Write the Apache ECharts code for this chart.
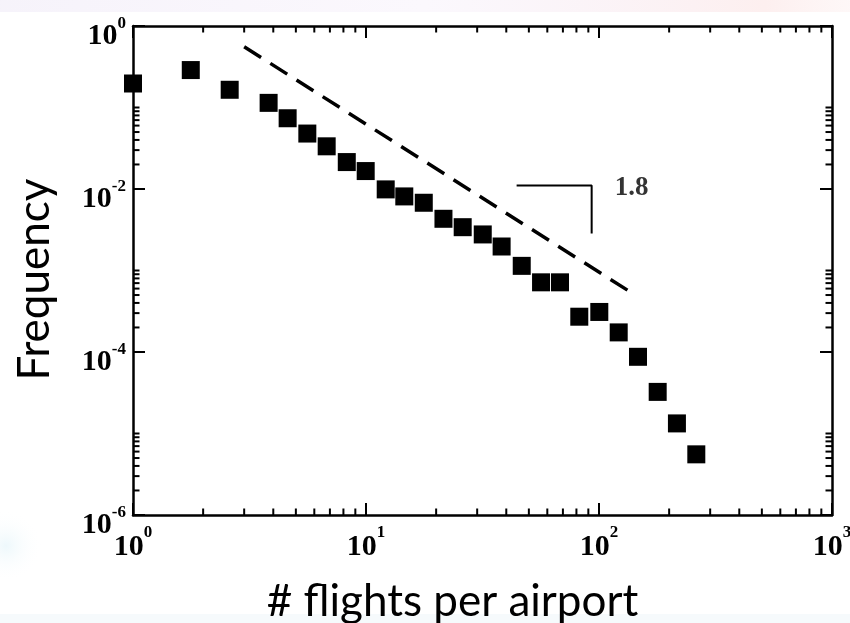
<!DOCTYPE html>
<html>
<head>
<meta charset="utf-8">
<title>Flights per airport</title>
<script src="https://cdn.jsdelivr.net/npm/echarts@6/dist/echarts.min.js"></script>
<style>
  html, body { margin: 0; padding: 0; background: #ffffff; }
  #chart { width: 850px; height: 623px; }
</style>
</head>
<body>
<div id="chart"></div>
<script>
// Degree distribution: number of flights per airport vs. frequency
const flights = [1.0, 1.77, 2.6, 3.82, 4.61, 5.6, 6.78, 8.27, 9.97, 12.15, 14.6, 17.7, 21.5, 26.0, 31.7, 38.2, 46.6, 56.4, 68.0, 82.3, 100.3, 121.5, 147, 178.6, 216, 261.6];
const frequency = [0.197, 0.288, 0.165, 0.114, 0.0738, 0.0479, 0.0334, 0.0214, 0.0166, 0.00989, 0.00811, 0.00678, 0.00431, 0.0034, 0.00277, 0.00197, 0.00114, 0.000716, 0.000716, 0.000271, 0.00031, 0.000174, 0.0000873, 0.0000324, 0.0000133, 0.00000555];

// Power-law guide (slope -1.8), end points
const guideX = [3, 137];
const guideY = [0.556, 0.00054];

// Slope marker and its label
const slopeX = [44.3, 93, 93];
const slopeY = [0.01107, 0.01107, 0.00284];
const slopeLabel = '1.8';
const slopeLabelAt = [138, 0.0102];

// Axis ranges and tick positions
const xRange = [1, 1000];
const yRange = [1e-6, 1];
const xMinorTicks = [2, 3, 4, 5, 6, 7, 8, 9, 20, 30, 40, 50, 60, 70, 80, 90, 200, 300, 400, 500, 600, 700, 800, 900];
const yMinorTicks = [2e-2, 3e-2, 4e-2, 5e-2, 6e-2, 7e-2, 8e-2, 9e-2, 1e-1,
                     2e-4, 3e-4, 4e-4, 5e-4, 6e-4, 7e-4, 8e-4, 9e-4, 1e-3,
                     2e-6, 3e-6, 4e-6, 5e-6, 6e-6, 7e-6, 8e-6, 9e-6, 1e-5];

const xTitle = '# flights per airport';
const yTitle = 'Frequency';

const serif = '"Liberation Serif", "DejaVu Serif", serif';
const sans = 'Lato, "Open Sans", sans-serif';
function powerRich(lineHeight) {
  return {
    b: { fontFamily: serif, fontWeight: 'bold', fontSize: 30, color: '#000', lineHeight: lineHeight, verticalAlign: 'bottom' },
    s: { fontFamily: serif, fontWeight: 'bold', fontSize: 17, color: '#000', verticalAlign: 'top' }
  };
}
function powerLabel(v) {
  const e = Math.round(Math.log10(v));
  return '{b|10}{s|' + e + '}';
}

const frame = { show: true, onZero: false, lineStyle: { color: '#000', width: 2.5 } };
const majorTick = { show: true, inside: true, length: 12, lineStyle: { color: '#000', width: 2 } };

function minorTickItem(axis) {
  return function (params, api) {
    const cs = params.coordSys;
    const len = 6.5;
    const style = { stroke: '#000', lineWidth: 2 };
    if (axis === 'x') {
      const px = api.coord([api.value(0), 1e-3])[0];
      const bottom = cs.y + cs.height, top = cs.y;
      return { type: 'group', children: [
        { type: 'line', shape: { x1: px, y1: bottom, x2: px, y2: bottom - len }, style: style },
        { type: 'line', shape: { x1: px, y1: top, x2: px, y2: top + len }, style: style }
      ] };
    }
    const py = api.coord([10, api.value(1)])[1];
    const left = cs.x, right = cs.x + cs.width;
    return { type: 'group', children: [
      { type: 'line', shape: { x1: left, y1: py, x2: left + len, y2: py }, style: style },
      { type: 'line', shape: { x1: right, y1: py, x2: right - len, y2: py }, style: style }
    ] };
  };
}

const chart = echarts.init(document.getElementById('chart'), null, { renderer: 'canvas' });
chart.setOption({
  animation: false,
  backgroundColor: '#ffffff',
  graphic: [
    { type: 'rect', silent: true, z: -10, shape: { x: 0, y: 0, width: 850, height: 12 },
      style: { fill: new echarts.graphic.LinearGradient(0, 0, 1, 0, [
        { offset: 0, color: 'rgba(225,215,240,0.3)' },
        { offset: 0.5, color: 'rgba(235,220,245,0.2)' },
        { offset: 0.9, color: 'rgba(250,215,215,0.4)' },
        { offset: 1, color: 'rgba(250,225,225,0.25)' }]) } },
    { type: 'rect', silent: true, z: -10, shape: { x: 0, y: 430, width: 60, height: 193 },
      style: { fill: new echarts.graphic.RadialGradient(0.1, 0.6, 0.6, [
        { offset: 0, color: 'rgba(205,235,245,0.35)' },
        { offset: 1, color: 'rgba(255,255,255,0)' }]) } },
    { type: 'rect', silent: true, z: -10, shape: { x: 0, y: 614, width: 850, height: 9 },
      style: { fill: 'rgba(215,230,240,0.22)' } }
  ],
  grid: { left: 133, right: 18, top: 26, bottom: 108, containLabel: false, outerBoundsMode: 'none' },
  xAxis: [
    {
      type: 'log', logBase: 10, min: xRange[0], max: xRange[1], interval: 1,
      position: 'bottom',
      axisLine: frame, axisTick: majorTick, splitLine: { show: false }, minorTick: { show: false },
      axisLabel: { show: true, margin: 9, formatter: powerLabel, rich: powerRich(38) },
      name: xTitle, nameLocation: 'middle', nameGap: 65,
      nameTextStyle: { fontFamily: sans, fontSize: 44, color: '#000', padding: [0, 60, 0, 0] }
    },
    {
      type: 'log', logBase: 10, min: xRange[0], max: xRange[1], interval: 1,
      position: 'top',
      axisLine: frame, axisTick: majorTick, splitLine: { show: false },
      axisLabel: { show: false }
    }
  ],
  yAxis: [
    {
      type: 'log', logBase: 10, min: yRange[0], max: yRange[1], interval: 2,
      position: 'left',
      axisLine: frame, axisTick: majorTick, splitLine: { show: false }, minorTick: { show: false },
      axisLabel: { show: true, margin: 7, formatter: powerLabel, rich: powerRich(36), padding: [15, 0, 0, 0] },
      name: yTitle, nameLocation: 'middle', nameGap: 76,
      nameTextStyle: { fontFamily: sans, fontSize: 44, color: '#000', padding: [0, 18, 0, 0] }
    },
    {
      type: 'log', logBase: 10, min: yRange[0], max: yRange[1], interval: 2,
      position: 'right',
      axisLine: frame, axisTick: majorTick, splitLine: { show: false },
      axisLabel: { show: false }
    }
  ],
  series: [
    {
      type: 'custom', name: 'x minor ticks', xAxisIndex: 0, yAxisIndex: 0, clip: false, silent: true,
      renderItem: minorTickItem('x'),
      data: xMinorTicks.map(function (v) { return [v, 1e-3]; })
    },
    {
      type: 'custom', name: 'y minor ticks', xAxisIndex: 0, yAxisIndex: 0, clip: false, silent: true,
      renderItem: minorTickItem('y'),
      data: yMinorTicks.map(function (v) { return [10, v]; })
    },
    {
      type: 'line', name: 'power law', xAxisIndex: 0, yAxisIndex: 0,
      data: guideX.map(function (x, i) { return [x, guideY[i]]; }),
      symbol: 'none', silent: true,
      lineStyle: { color: '#000', width: 3.5, type: [20, 11] }
    },
    {
      type: 'line', name: 'slope', xAxisIndex: 0, yAxisIndex: 0,
      data: slopeX.map(function (x, i) { return [x, slopeY[i]]; }),
      symbol: 'none', silent: true,
      lineStyle: { color: '#000', width: 2 }
    },
    {
      type: 'scatter', name: 'slope label', xAxisIndex: 0, yAxisIndex: 0,
      data: [slopeLabelAt], symbolSize: 0, silent: true,
      label: { show: true, position: 'inside', formatter: slopeLabel,
        fontFamily: serif, fontWeight: 'bold', fontSize: 27, color: '#000' }
    },
    {
      type: 'scatter', name: 'airports', xAxisIndex: 0, yAxisIndex: 0, clip: false,
      data: flights.map(function (x, i) { return [x, frequency[i]]; }),
      symbol: 'rect', symbolSize: 18,
      itemStyle: { color: '#000', opacity: 1 },
      z: 5
    }
  ]
});
</script>
</body>
</html>
